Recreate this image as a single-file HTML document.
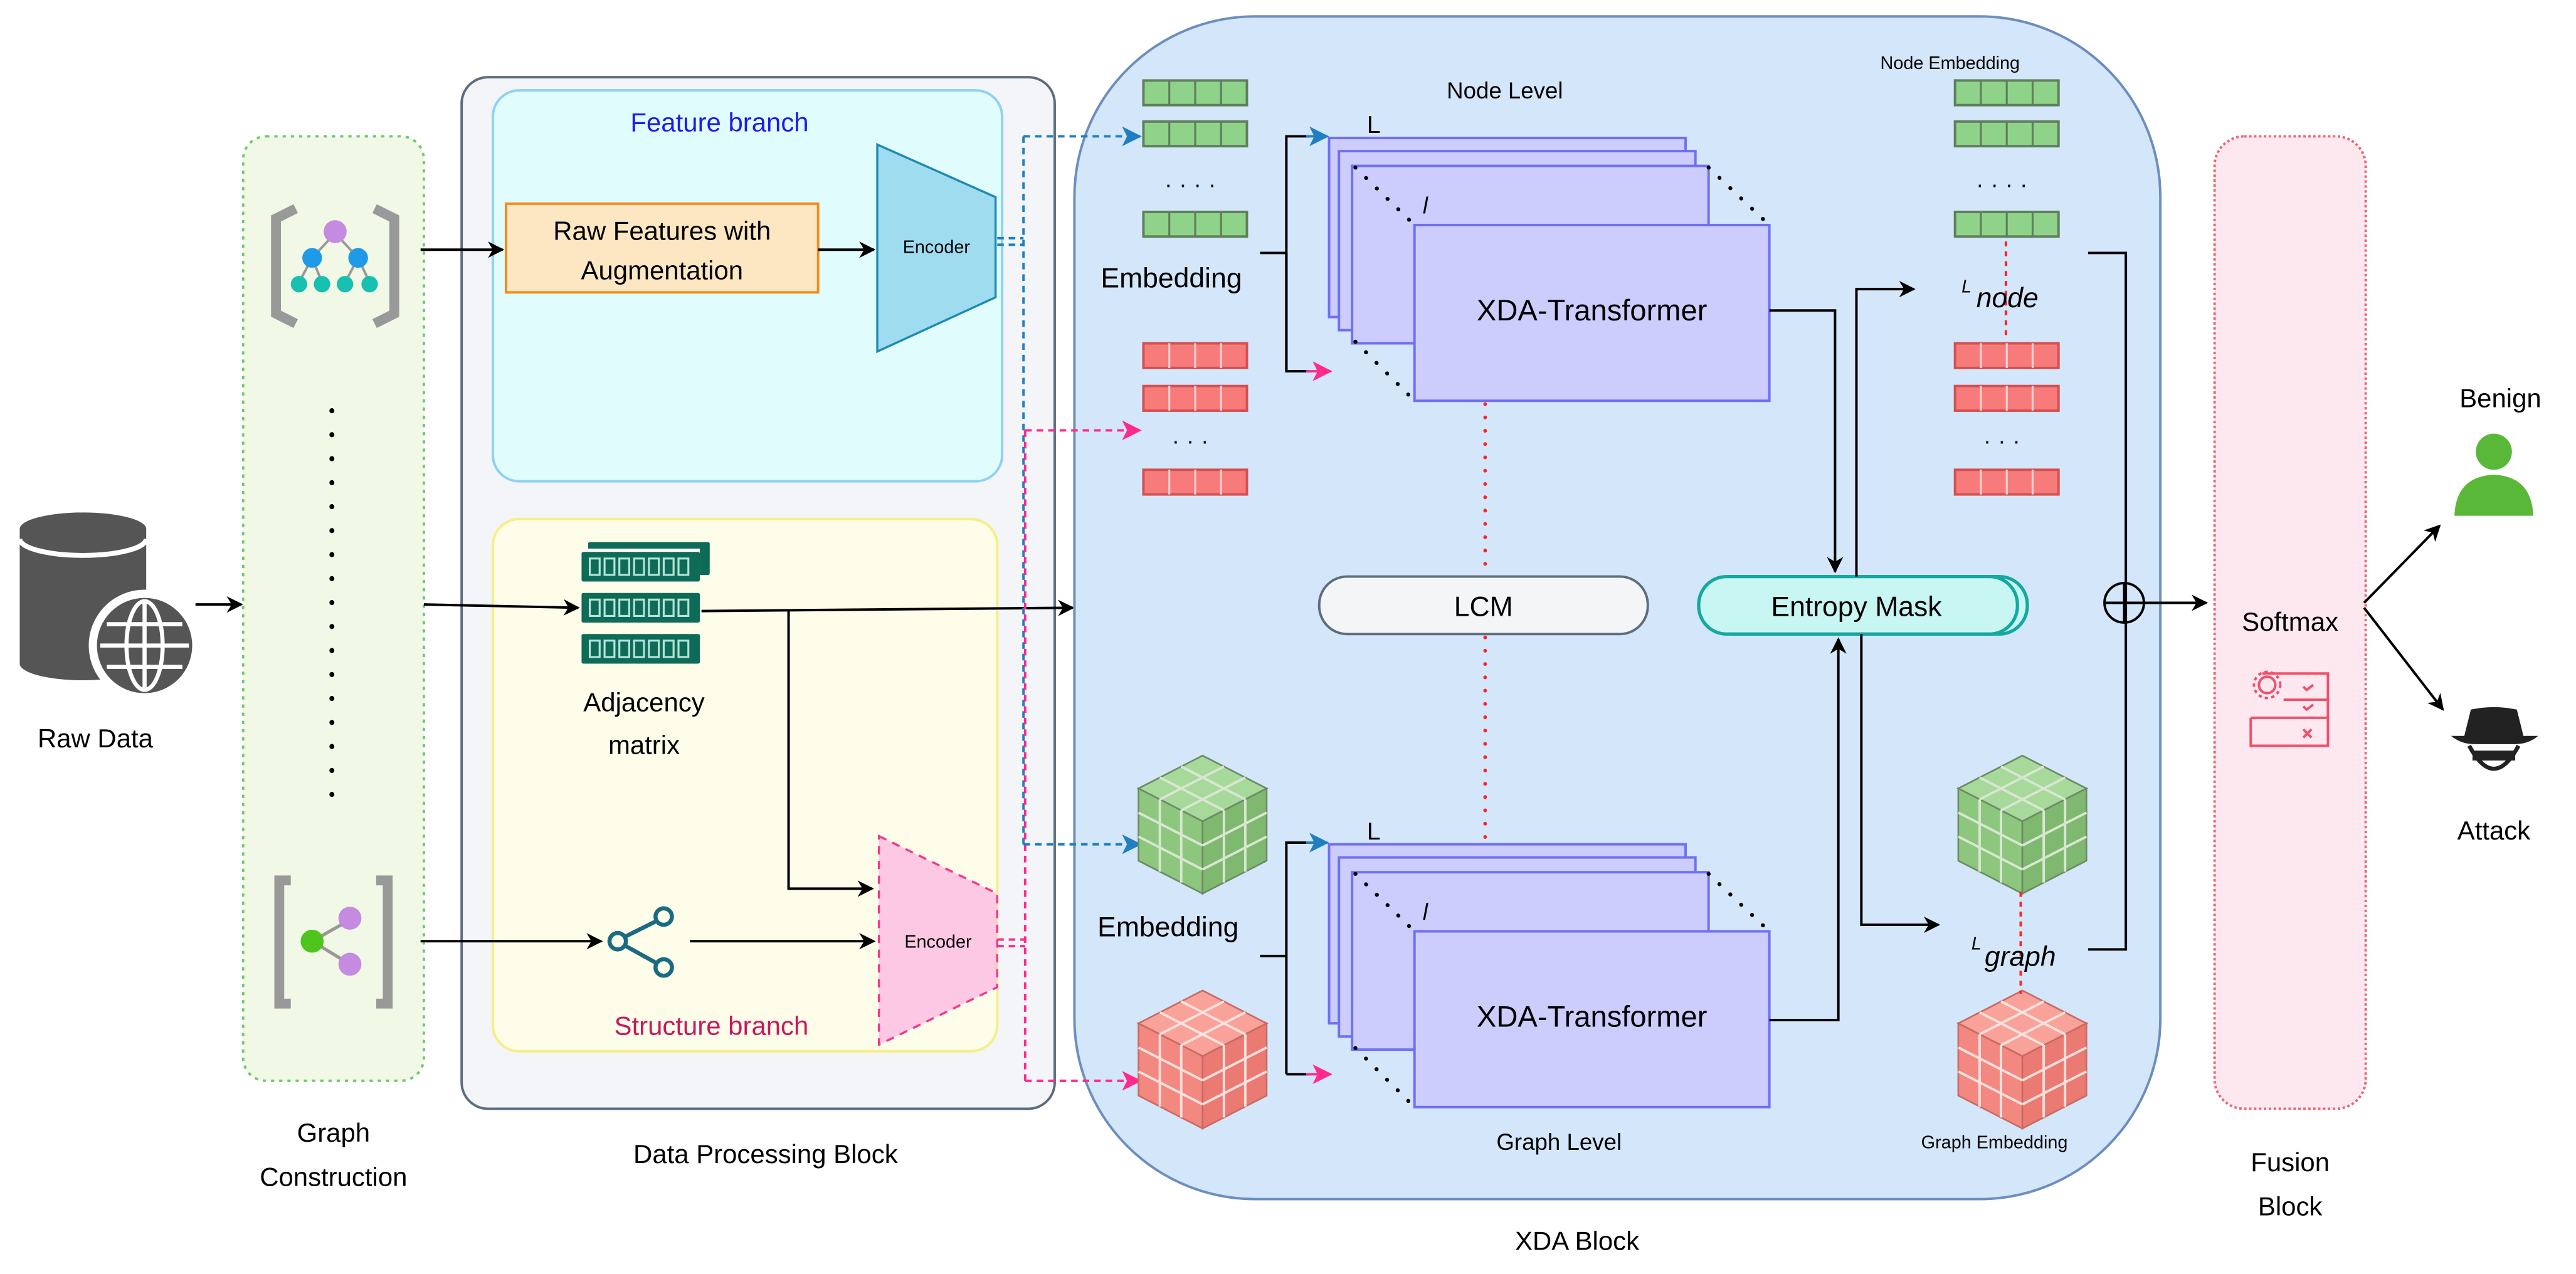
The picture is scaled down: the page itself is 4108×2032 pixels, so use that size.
<!DOCTYPE html>
<html><head><meta charset="utf-8"><style>
html,body{margin:0;padding:0;background:#fff;}
svg{display:block;}
text{font-family:"Liberation Sans",sans-serif;}
</style></head><body>
<svg width="4108" height="2032" viewBox="0 0 1568 775.6" xmlns="http://www.w3.org/2000/svg">
<defs>
<marker id="ak" markerWidth="10" markerHeight="10" refX="9" refY="5" orient="auto" markerUnits="userSpaceOnUse"><path d="M0,0 L10,5 L0,10 L3,5 Z" fill="#000"/></marker>
<marker id="ab" markerWidth="12" markerHeight="12" refX="11" refY="6" orient="auto" markerUnits="userSpaceOnUse"><path d="M0,0 L12,6 L0,12 L3,6 Z" fill="#1f7fc0"/></marker>
<marker id="ap" markerWidth="12" markerHeight="12" refX="11" refY="6" orient="auto" markerUnits="userSpaceOnUse"><path d="M0,0 L12,6 L0,12 L3,6 Z" fill="#ff2a8a"/></marker>
<g id="gbar"><rect x="0" y="0" width="63" height="15" fill="#8fd38a" stroke="#5f7f5a" stroke-width="1.5"/><path d="M15.75,0V15M31.5,0V15M47.25,0V15" stroke="#5f7f5a" stroke-width="1.2"/></g>
<g id="rbar"><rect x="0" y="0" width="63" height="15" fill="#f77b7b" stroke="#d45050" stroke-width="1.5"/><path d="M15.75,0V15M31.5,0V15M47.25,0V15" stroke="#ffd0d0" stroke-width="1.2"/></g>
<g id="gcube">
<polygon points="39,0 78,20 39,40 0,20" fill="#a7d99a" stroke="#6d8a66" stroke-width="1"/>
<polygon points="0,20 39,40 39,84 0,64" fill="#8cc77d" stroke="#6d8a66" stroke-width="1"/>
<polygon points="39,40 78,20 78,64 39,84" fill="#7fb86f" stroke="#6d8a66" stroke-width="1"/>
<path d="M26,6.67L65,26.67M13,13.33L52,33.33M52,6.67L13,26.67M65,13.33L26,33.33" stroke="#d8e6d2" stroke-width="1.5"/>
<path d="M13,26.7V70.7M26,33.3V77.3M0,34.7L39,54.7M0,49.3L39,69.3M52,33.3V77.3M65,26.7V70.7M39,54.7L78,34.7M39,69.3L78,49.3" stroke="#d8e6d2" stroke-width="1.5"/>
</g>
<g id="rcube">
<polygon points="39,0 78,20 39,40 0,20" fill="#f8a29a" stroke="#c86a64" stroke-width="1"/>
<polygon points="0,20 39,40 39,84 0,64" fill="#f28880" stroke="#c86a64" stroke-width="1"/>
<polygon points="39,40 78,20 78,64 39,84" fill="#ea7a72" stroke="#c86a64" stroke-width="1"/>
<path d="M26,6.67L65,26.67M13,13.33L52,33.33M52,6.67L13,26.67M65,13.33L26,33.33" stroke="#ffe0dc" stroke-width="1.5"/>
<path d="M13,26.7V70.7M26,33.3V77.3M0,34.7L39,54.7M0,49.3L39,69.3M52,33.3V77.3M65,26.7V70.7M39,54.7L78,34.7M39,69.3L78,49.3" stroke="#ffe0dc" stroke-width="1.5"/>
</g>
<g id="stack">
<rect x="809" y="84" width="217" height="109" fill="#ccccfd" stroke="#6f6ff5" stroke-width="1.5"/>
<rect x="815" y="92" width="217" height="109" fill="#ccccfd" stroke="#6f6ff5" stroke-width="1.5"/>
<rect x="823" y="101" width="217" height="108" fill="#ccccfd" stroke="#6f6ff5" stroke-width="1.5"/>
<rect x="861" y="137" width="216" height="107" fill="#ccccfd" stroke="#6f6ff5" stroke-width="1.5"/>
<path d="M825,102 L861,137 M1040,102 L1077,137 M825,208 L861,244" stroke="#000" stroke-width="2.4" stroke-dasharray="0.1 9" stroke-linecap="round"/>
<text x="832" y="81" font-size="15">L</text>
<text x="866" y="130" font-size="14" font-style="italic">l</text>
<text x="969" y="195" font-size="18" text-anchor="middle">XDA-Transformer</text>
</g>
</defs>

<!-- Raw data -->
<path d="M12,322 v82 a38,10 0 0 0 77,0 v-82" fill="#555"/>
<ellipse cx="50.5" cy="322" rx="38.5" ry="10" fill="#555"/>
<path d="M12,328 a38,10 0 0 0 77,0" fill="none" stroke="#fff" stroke-width="3"/>
<circle cx="88" cy="393" r="34" fill="#fff"/>
<circle cx="88" cy="393" r="29" fill="#555"/>
<g stroke="#fff" stroke-width="2.5" fill="none"><ellipse cx="88" cy="393" rx="11" ry="27"/><path d="M88,366v54M61,393h54M65,380h46M65,406h46"/></g>
<text x="58" y="455" font-size="16" text-anchor="middle">Raw Data</text>
<line x1="119" y1="368" x2="147" y2="368" stroke="#000" stroke-width="1.5" marker-end="url(#ak)"/>

<!-- Graph construction -->
<rect x="148" y="83" width="110" height="575" rx="14" fill="#f1f8e5" stroke="#72c96e" stroke-width="1.5" stroke-dasharray="2 3"/>
<text x="203" y="695" font-size="16" text-anchor="middle">Graph</text>
<text x="203" y="722" font-size="16" text-anchor="middle">Construction</text>
<line x1="202" y1="250" x2="202" y2="495" stroke="#000" stroke-width="3" stroke-dasharray="0.1 14.5" stroke-linecap="round"/>
<g fill="none" stroke="#999" stroke-width="6"><path d="M180,127 l-12,6 v58 l12,6"/><path d="M228,127 l12,6 v58 l-12,6"/></g>
<g stroke="#999" stroke-width="1.5"><path d="M204,142 L190,157 M204,142 L218,157 M190,157 L182,172 M190,157 L196,172 M218,157 L210,172 M218,157 L225,172"/></g>
<circle cx="204" cy="141" r="7" fill="#c58be0"/><circle cx="190" cy="157" r="6" fill="#1e9ae8"/><circle cx="218" cy="157" r="6" fill="#1e9ae8"/>
<circle cx="182" cy="173" r="5" fill="#17c0b0"/><circle cx="196" cy="173" r="5" fill="#17c0b0"/><circle cx="210" cy="173" r="5" fill="#17c0b0"/><circle cx="225" cy="173" r="5" fill="#17c0b0"/>
<g fill="none" stroke="#999" stroke-width="6"><path d="M177,536 h-7 v75 h7"/><path d="M229,536 h7 v75 h-7"/></g>
<path d="M190,573 L213,560 M190,573 L213,587" stroke="#999" stroke-width="2"/>
<circle cx="190" cy="573" r="7" fill="#4ec51c"/><circle cx="213" cy="559" r="7" fill="#c58be0"/><circle cx="213" cy="587" r="7" fill="#c58be0"/>

<!-- Data processing block -->
<rect x="281" y="47" width="361" height="628" rx="16" fill="#f3f5f8" stroke="#5d6d7e" stroke-width="1.5"/>
<text x="466" y="708" font-size="16" text-anchor="middle">Data Processing Block</text>
<rect x="300" y="55" width="310" height="238" rx="16" fill="#e0fcfd" stroke="#8fd1f5" stroke-width="1.5"/>
<text x="438" y="80" font-size="16" text-anchor="middle" fill="#1b1bf0">Feature branch</text>
<rect x="308" y="124" width="190" height="54" fill="#fde7c2" stroke="#f18c1c" stroke-width="1.5"/>
<text x="403" y="146" font-size="16" text-anchor="middle">Raw Features with</text>
<text x="403" y="170" font-size="16" text-anchor="middle">Augmentation</text>
<line x1="256" y1="152" x2="306" y2="152" stroke="#000" stroke-width="1.5" marker-end="url(#ak)"/>
<line x1="498" y1="152" x2="532" y2="152" stroke="#000" stroke-width="1.5" marker-end="url(#ak)"/>
<polygon points="534,88 606,120 606,181 534,214" fill="#9fdcef" stroke="#1d8bb0" stroke-width="1.3"/>
<text x="570" y="154" font-size="11" text-anchor="middle">Encoder</text>

<rect x="300" y="316" width="307" height="324" rx="16" fill="#fdfde9" stroke="#f5ef85" stroke-width="1.5"/>
<text x="433" y="630" font-size="16" text-anchor="middle" fill="#c8185e">Structure branch</text>
<g fill="#0d6b58">
<rect x="358" y="330" width="74" height="20" rx="1"/>
<rect x="354" y="334" width="72" height="20" fill="#fff"/>
<rect x="354" y="336" width="72" height="18" rx="1"/>
<rect x="354" y="361" width="72" height="18" rx="1"/>
<rect x="354" y="386" width="72" height="18" rx="1"/>
</g>
<g fill="none" stroke="#b7e3d7" stroke-width="1.2">
<path d="M359,340h6v10h-6zM368,340h6v10h-6zM377,340h6v10h-6zM386,340h6v10h-6zM395,340h6v10h-6zM404,340h6v10h-6zM413,340h6v10h-6z"/>
<path d="M359,365h6v10h-6zM368,365h6v10h-6zM377,365h6v10h-6zM386,365h6v10h-6zM395,365h6v10h-6zM404,365h6v10h-6zM413,365h6v10h-6z"/>
<path d="M359,390h6v10h-6zM368,390h6v10h-6zM377,390h6v10h-6zM386,390h6v10h-6zM395,390h6v10h-6zM404,390h6v10h-6zM413,390h6v10h-6z"/>
</g>
<text x="392" y="433" font-size="16" text-anchor="middle">Adjacency</text>
<text x="392" y="459" font-size="16" text-anchor="middle">matrix</text>
<line x1="258" y1="368" x2="352" y2="370" stroke="#000" stroke-width="1.5" marker-end="url(#ak)"/>
<polyline points="427,372 653,370" fill="none" stroke="#000" stroke-width="1.5" marker-end="url(#ak)"/>
<polyline points="480,372 480,541 531,541" fill="none" stroke="#000" stroke-width="1.5" marker-end="url(#ak)"/>
<g fill="none" stroke="#1a6a80" stroke-width="2.5"><circle cx="376" cy="573" r="5"/><circle cx="404" cy="558" r="5"/><circle cx="404" cy="589" r="5"/><path d="M381,570 L399,561 M381,576 L399,586"/></g>
<line x1="256" y1="573" x2="366" y2="573" stroke="#000" stroke-width="1.5" marker-end="url(#ak)"/>
<line x1="420" y1="573" x2="532" y2="573" stroke="#000" stroke-width="1.5" marker-end="url(#ak)"/>
<polygon points="535,509 607,544 607,601 535,636" fill="#fcc8e3" stroke="#f2388c" stroke-width="1.3" stroke-dasharray="5 4"/>
<text x="571" y="577" font-size="11" text-anchor="middle">Encoder</text>

<!-- XDA block -->
<rect x="654" y="10" width="661" height="720" rx="110" fill="#d4e6fa" stroke="#6c8ebf" stroke-width="1.5"/>
<text x="960" y="761" font-size="16" text-anchor="middle">XDA Block</text>

<g fill="none" stroke-width="1.5" stroke-dasharray="4 3">
<path d="M607,145 H623 M607,149 H623 M623,83 V514" stroke="#1f7fc0"/>
<path d="M607,572 H624 M607,576 H624 M624,262 V658" stroke="#ff2a8a"/>
</g>
<line x1="623" y1="83" x2="694" y2="83" stroke="#1f7fc0" stroke-width="1.5" stroke-dasharray="4 3" marker-end="url(#ab)"/>
<line x1="623" y1="514" x2="694" y2="514" stroke="#1f7fc0" stroke-width="1.5" stroke-dasharray="4 3" marker-end="url(#ab)"/>
<line x1="624" y1="262" x2="694" y2="262" stroke="#ff2a8a" stroke-width="1.5" stroke-dasharray="4 3" marker-end="url(#ap)"/>
<line x1="624" y1="658" x2="694" y2="658" stroke="#ff2a8a" stroke-width="1.5" stroke-dasharray="4 3" marker-end="url(#ap)"/>

<use href="#gbar" x="696" y="49"/><use href="#gbar" x="696" y="74"/><use href="#gbar" x="696" y="129"/>
<text x="727" y="114" font-size="14" text-anchor="middle" letter-spacing="5">....</text>
<use href="#rbar" x="696" y="209"/><use href="#rbar" x="696" y="235"/><use href="#rbar" x="696" y="286"/>
<text x="727" y="270" font-size="14" text-anchor="middle" letter-spacing="5">...</text>
<text x="713" y="175" font-size="17" text-anchor="middle">Embedding</text>
<polyline points="767,154 783,154" fill="none" stroke="#000" stroke-width="1.5"/>
<polyline points="783,226 783,83 797,83" fill="none" stroke="#000" stroke-width="1.5"/>
<line x1="795" y1="83" x2="808" y2="83" stroke="#1f7fc0" stroke-width="1.5" marker-end="url(#ab)"/>
<polyline points="783,154 783,226 797,226" fill="none" stroke="#000" stroke-width="1.5"/>
<line x1="795" y1="226" x2="810" y2="226" stroke="#ff2a8a" stroke-width="1.5" marker-end="url(#ap)"/>
<text x="916" y="60" font-size="14" text-anchor="middle">Node Level</text>
<use href="#stack"/>

<use href="#gcube" x="693" y="460"/>
<use href="#rcube" x="693" y="603"/>
<text x="711" y="570" font-size="17" text-anchor="middle">Embedding</text>
<polyline points="767,582 783,582" fill="none" stroke="#000" stroke-width="1.5"/>
<polyline points="783,654 783,513 797,513" fill="none" stroke="#000" stroke-width="1.5"/>
<line x1="795" y1="513" x2="808" y2="513" stroke="#1f7fc0" stroke-width="1.5" marker-end="url(#ab)"/>
<line x1="783" y1="654" x2="797" y2="654" stroke="#000" stroke-width="1.5"/>
<line x1="795" y1="654" x2="810" y2="654" stroke="#ff2a8a" stroke-width="1.5" marker-end="url(#ap)"/>
<use href="#stack" y="430"/>
<text x="949" y="700" font-size="14" text-anchor="middle">Graph Level</text>

<line x1="904" y1="246" x2="904" y2="350" stroke="#f22" stroke-width="2.2" stroke-dasharray="0.1 8" stroke-linecap="round"/>
<line x1="904" y1="388" x2="904" y2="512" stroke="#f22" stroke-width="2.2" stroke-dasharray="0.1 8" stroke-linecap="round"/>
<rect x="803" y="351" width="200" height="35" rx="17" fill="#f4f5f7" stroke="#5d6d7e" stroke-width="1.5"/>
<text x="903" y="375" font-size="17" text-anchor="middle">LCM</text>
<rect x="1040" y="351" width="194" height="35" rx="17" fill="#c8f6f2" stroke="#14a9a0" stroke-width="2"/>
<rect x="1034" y="351" width="194" height="35" rx="17" fill="#c8f6f2" stroke="#14a9a0" stroke-width="2"/>
<text x="1130" y="375" font-size="17" text-anchor="middle">Entropy Mask</text>

<polyline points="1077,189 1117,189 1117,348" fill="none" stroke="#000" stroke-width="1.5" marker-end="url(#ak)"/>
<polyline points="1077,621 1119,621 1119,389" fill="none" stroke="#000" stroke-width="1.5" marker-end="url(#ak)"/>
<polyline points="1130,351 1130,176 1165,176" fill="none" stroke="#000" stroke-width="1.5" marker-end="url(#ak)"/>
<polyline points="1133,386 1133,563 1180,563" fill="none" stroke="#000" stroke-width="1.5" marker-end="url(#ak)"/>

<text x="1187" y="42" font-size="11" text-anchor="middle">Node Embedding</text>
<use href="#gbar" x="1190" y="49"/><use href="#gbar" x="1190" y="74"/><use href="#gbar" x="1190" y="129"/>
<text x="1221" y="114" font-size="14" text-anchor="middle" letter-spacing="5">....</text>
<use href="#rbar" x="1190" y="209"/><use href="#rbar" x="1190" y="235"/><use href="#rbar" x="1190" y="286"/>
<text x="1221" y="270" font-size="14" text-anchor="middle" letter-spacing="5">...</text>
<line x1="1221" y1="147" x2="1221" y2="206" stroke="#f22" stroke-width="1.5" stroke-dasharray="3 3"/>
<text x="1194" y="178" font-size="11" font-style="italic">L</text>
<text x="1203" y="187" font-size="17" font-style="italic">node</text>
<use href="#gcube" x="1192" y="460"/>
<use href="#rcube" x="1192" y="603"/>
<line x1="1230" y1="543" x2="1230" y2="605" stroke="#f22" stroke-width="1.5" stroke-dasharray="3 3"/>
<text x="1200" y="578" font-size="11" font-style="italic">L</text>
<text x="1208" y="588" font-size="17" font-style="italic">graph</text>
<text x="1214" y="699" font-size="11" text-anchor="middle">Graph Embedding</text>
<polyline points="1271,154 1294,154 1294,578 1271,578" fill="none" stroke="#000" stroke-width="1.5"/>
<circle cx="1293" cy="367" r="12" fill="none" stroke="#000" stroke-width="1.5"/>
<path d="M1281,367h24M1293,355v24" stroke="#000" stroke-width="1.5"/>
<line x1="1305" y1="367" x2="1343" y2="367" stroke="#000" stroke-width="1.5" marker-end="url(#ak)"/>

<rect x="1348" y="83" width="92" height="592" rx="18" fill="#fde8f0" stroke="#f06470" stroke-width="1.5" stroke-dasharray="1.5 1.5"/>
<text x="1394" y="384" font-size="16" text-anchor="middle">Softmax</text>
<g fill="none" stroke="#f0506a" stroke-width="1.5">
<path d="M1377,410 h40 v44 h-47 v-17"/><path d="M1370,437 h47 M1390,426 h27"/>
<circle cx="1380" cy="417" r="5"/><circle cx="1380" cy="417" r="8" stroke-dasharray="2 2"/>
<path d="M1402,418l2,2 4,-3M1402,430l2,2 4,-3M1402,444l5,5M1407,444l-5,5"/>
</g>
<text x="1394" y="713" font-size="16" text-anchor="middle">Fusion</text>
<text x="1394" y="740" font-size="16" text-anchor="middle">Block</text>
<line x1="1439" y1="367" x2="1485" y2="320" stroke="#000" stroke-width="1.5" marker-end="url(#ak)"/>
<line x1="1439" y1="370" x2="1487" y2="432" stroke="#000" stroke-width="1.5" marker-end="url(#ak)"/>
<text x="1522" y="248" font-size="16" text-anchor="middle">Benign</text>
<circle cx="1518" cy="275" r="11" fill="#5ab838"/>
<path d="M1494,314 q1,-24 24,-25 q23,1 24,25 z" fill="#5ab838"/>
<text x="1518" y="511" font-size="16" text-anchor="middle">Attack</text>
<path d="M1492,448 h53 q-6,5 -14,5 h-25 q-8,0 -14,-5 z M1500,448 l4,-16 q14,-3 28,0 l4,16 z" fill="#222"/>
<path d="M1503,454 q15,28 30,0" fill="#fff" stroke="#222" stroke-width="2.5"/>
<path d="M1505,457 h26 v6 h-26z" fill="#222"/>
</svg>
</body></html>
